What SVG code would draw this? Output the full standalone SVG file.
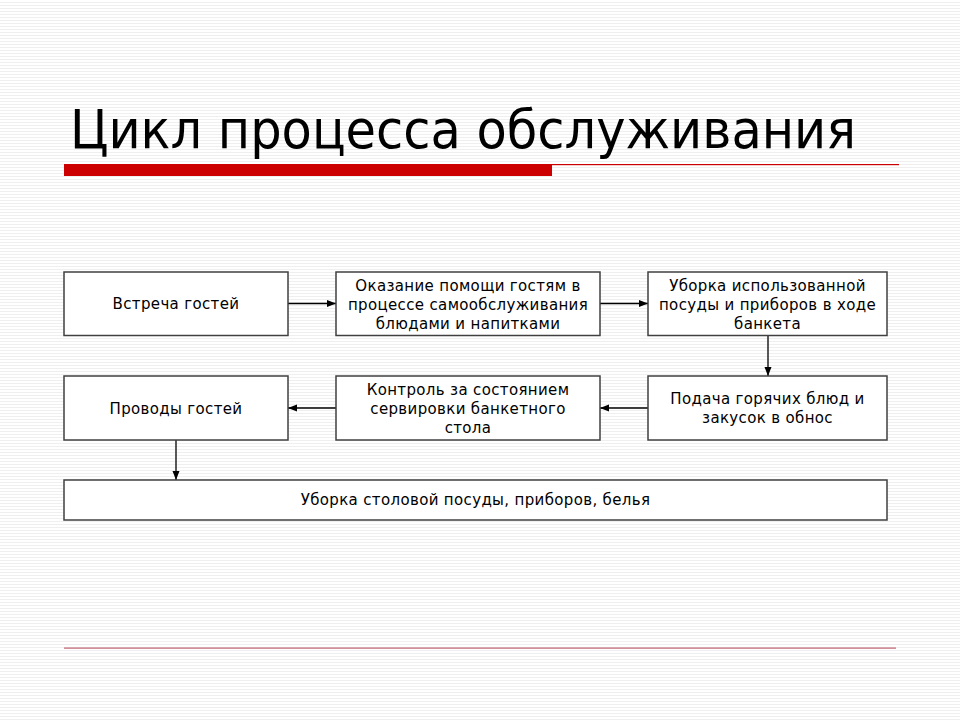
<svg xmlns="http://www.w3.org/2000/svg" width="960" height="720" viewBox="0 0 960 720">
<defs>
<pattern id="stripes" width="8" height="3" patternUnits="userSpaceOnUse">
<rect width="8" height="3" fill="#ffffff"/>
<rect y="2" width="8" height="1" fill="#efefef"/>
</pattern>
<marker id="arr" markerWidth="10" markerHeight="8" refX="9" refY="4" orient="auto" markerUnits="userSpaceOnUse">
<path d="M0,0.5 L9,4 L0,7.5 Z" fill="#000"/>
</marker>
</defs>
<style>
.box{fill:#ffffff;stroke:#404040;stroke-width:1.5}
.t{font-family:"DejaVu Sans",Verdana,sans-serif;font-size:15px;letter-spacing:0.35px;fill:#000;text-anchor:middle}
.title{font-family:"DejaVu Sans",Verdana,sans-serif;font-size:54px;fill:#000}
.c{stroke:#000;stroke-width:1.3;fill:none;marker-end:url(#arr)}
</style>
<rect width="960" height="720" fill="url(#stripes)"/>
<text class="title" x="70" y="148" textLength="786" lengthAdjust="spacingAndGlyphs">Цикл процесса обслуживания</text>
<rect x="64" y="164" width="488" height="12" fill="#cc0000"/>
<rect x="552" y="164" width="347" height="1.2" fill="#cc0000"/>
<rect x="64" y="647.5" width="832" height="1.2" fill="#c06070"/>

<g id="connectors">
<line class="c" x1="288" y1="303.5" x2="336" y2="303.5"/>
<line class="c" x1="600" y1="303.5" x2="648" y2="303.5"/>
<line class="c" x1="768" y1="336" x2="768" y2="376"/>
<line class="c" x1="648" y1="408" x2="600" y2="408"/>
<line class="c" x1="336" y1="408" x2="288" y2="408"/>
<line class="c" x1="176" y1="440" x2="176" y2="480"/>
</g>

<g id="n1">
<rect class="box" x="64" y="272" width="224" height="63.5"/>
<text class="t" x="176" y="309">Встреча гостей</text>
</g>
<g id="n2">
<rect class="box" x="336" y="272" width="264" height="63.5"/>
<text class="t" x="468" y="291">Оказание помощи гостям в</text>
<text class="t" x="468" y="310">процессе самообслуживания</text>
<text class="t" x="468" y="329">блюдами и напитками</text>
</g>
<g id="n3">
<rect class="box" x="648" y="272" width="239" height="63.5"/>
<text class="t" x="767.5" y="291">Уборка использованной</text>
<text class="t" x="767.5" y="310">посуды и приборов в ходе</text>
<text class="t" x="767.5" y="329">банкета</text>
</g>
<g id="n4">
<rect class="box" x="648" y="376" width="239" height="64"/>
<text class="t" x="767.5" y="404">Подача горячих блюд и</text>
<text class="t" x="767.5" y="423">закусок в обнос</text>
</g>
<g id="n5">
<rect class="box" x="336" y="376" width="264" height="64"/>
<text class="t" x="468" y="395">Контроль за состоянием</text>
<text class="t" x="468" y="414">сервировки банкетного</text>
<text class="t" x="468" y="433">стола</text>
</g>
<g id="n6">
<rect class="box" x="64" y="376" width="224" height="64"/>
<text class="t" x="176" y="414">Проводы гостей</text>
</g>
<g id="n7">
<rect class="box" x="64" y="480" width="823" height="40"/>
<text class="t" x="475.5" y="505">Уборка столовой посуды, приборов, белья</text>
</g>
</svg>
